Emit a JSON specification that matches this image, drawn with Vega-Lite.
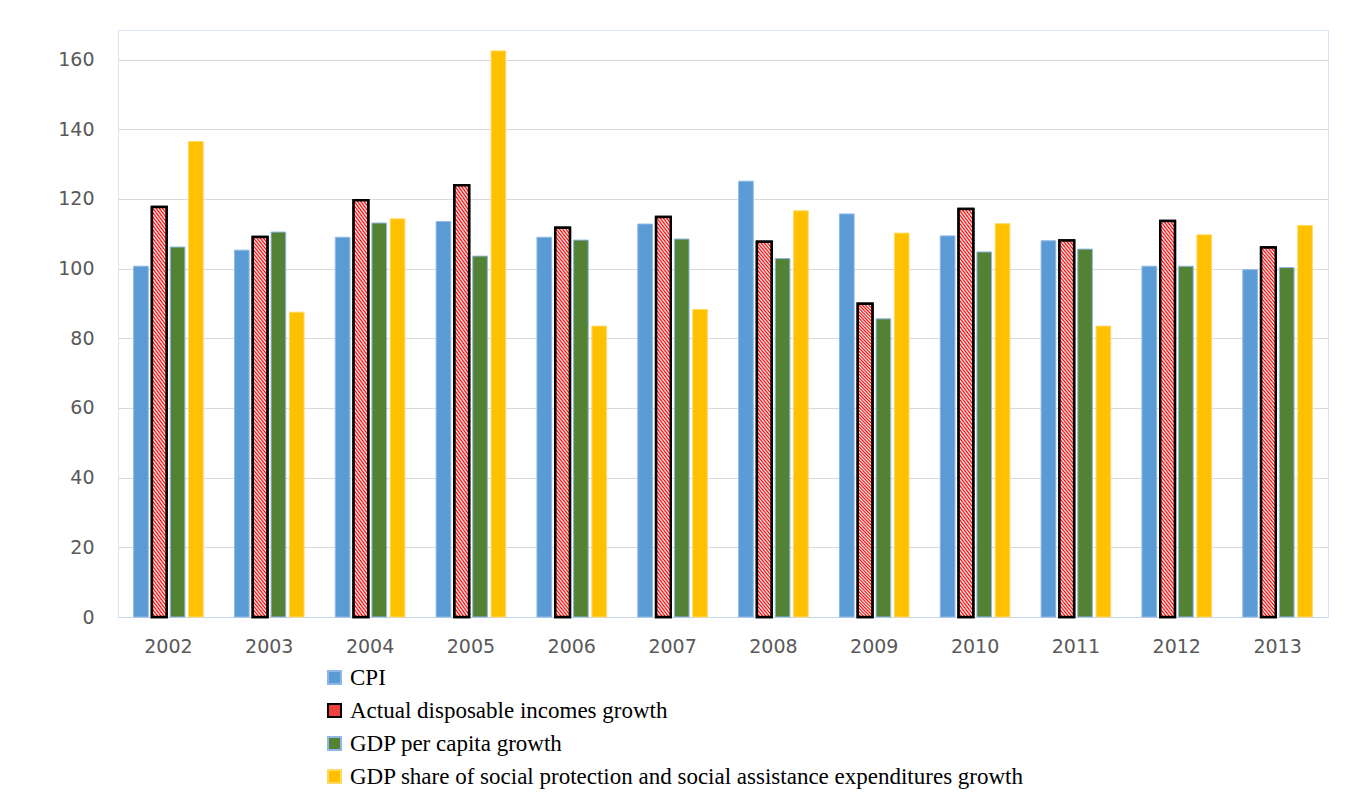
{
  "$schema": "https://vega.github.io/schema/vega-lite/v6.json",
  "width": 1210,
  "height": 587,
  "autosize": "none",
  "padding": {"left": 118, "top": 30, "right": 31, "bottom": 184},
  "background": "white",
  "config": {"view": {"stroke": "#dae3f3"}},
  "data": {"values": [
    {"year": "2002", "series": "CPI", "value": 100.7},
    {"year": "2002", "series": "Actual disposable incomes growth", "value": 117.7},
    {"year": "2002", "series": "GDP per capita growth", "value": 106.2},
    {"year": "2002", "series": "GDP share of social protection and social assistance expenditures growth", "value": 136.5},
    {"year": "2003", "series": "CPI", "value": 105.3},
    {"year": "2003", "series": "Actual disposable incomes growth", "value": 109.1},
    {"year": "2003", "series": "GDP per capita growth", "value": 110.5},
    {"year": "2003", "series": "GDP share of social protection and social assistance expenditures growth", "value": 87.5},
    {"year": "2004", "series": "CPI", "value": 109.0},
    {"year": "2004", "series": "Actual disposable incomes growth", "value": 119.6},
    {"year": "2004", "series": "GDP per capita growth", "value": 113.1},
    {"year": "2004", "series": "GDP share of social protection and social assistance expenditures growth", "value": 114.3},
    {"year": "2005", "series": "CPI", "value": 113.5},
    {"year": "2005", "series": "Actual disposable incomes growth", "value": 123.9},
    {"year": "2005", "series": "GDP per capita growth", "value": 103.6},
    {"year": "2005", "series": "GDP share of social protection and social assistance expenditures growth", "value": 162.5},
    {"year": "2006", "series": "CPI", "value": 109.0},
    {"year": "2006", "series": "Actual disposable incomes growth", "value": 111.7},
    {"year": "2006", "series": "GDP per capita growth", "value": 108.2},
    {"year": "2006", "series": "GDP share of social protection and social assistance expenditures growth", "value": 83.5},
    {"year": "2007", "series": "CPI", "value": 112.8},
    {"year": "2007", "series": "Actual disposable incomes growth", "value": 114.8},
    {"year": "2007", "series": "GDP per capita growth", "value": 108.5},
    {"year": "2007", "series": "GDP share of social protection and social assistance expenditures growth", "value": 88.3},
    {"year": "2008", "series": "CPI", "value": 125.1},
    {"year": "2008", "series": "Actual disposable incomes growth", "value": 107.7},
    {"year": "2008", "series": "GDP per capita growth", "value": 102.9},
    {"year": "2008", "series": "GDP share of social protection and social assistance expenditures growth", "value": 116.6},
    {"year": "2009", "series": "CPI", "value": 115.7},
    {"year": "2009", "series": "Actual disposable incomes growth", "value": 89.9},
    {"year": "2009", "series": "GDP per capita growth", "value": 85.6},
    {"year": "2009", "series": "GDP share of social protection and social assistance expenditures growth", "value": 110.2},
    {"year": "2010", "series": "CPI", "value": 109.4},
    {"year": "2010", "series": "Actual disposable incomes growth", "value": 117.1},
    {"year": "2010", "series": "GDP per capita growth", "value": 104.8},
    {"year": "2010", "series": "GDP share of social protection and social assistance expenditures growth", "value": 112.9},
    {"year": "2011", "series": "CPI", "value": 108.0},
    {"year": "2011", "series": "Actual disposable incomes growth", "value": 108.1},
    {"year": "2011", "series": "GDP per capita growth", "value": 105.6},
    {"year": "2011", "series": "GDP share of social protection and social assistance expenditures growth", "value": 83.5},
    {"year": "2012", "series": "CPI", "value": 100.7},
    {"year": "2012", "series": "Actual disposable incomes growth", "value": 113.7},
    {"year": "2012", "series": "GDP per capita growth", "value": 100.7},
    {"year": "2012", "series": "GDP share of social protection and social assistance expenditures growth", "value": 109.7},
    {"year": "2013", "series": "CPI", "value": 99.7},
    {"year": "2013", "series": "Actual disposable incomes growth", "value": 106.1},
    {"year": "2013", "series": "GDP per capita growth", "value": 100.3},
    {"year": "2013", "series": "GDP share of social protection and social assistance expenditures growth", "value": 112.4}
  ]},
  "encoding": {
    "x": {
      "field": "year", "type": "nominal",
      "scale": {"paddingInner": 0.31, "paddingOuter": 0.155},
      "axis": {"title": null, "labelAngle": 0, "domain": true, "domainColor": "#c5d5ea", "ticks": false, "labelFont": "DejaVu Sans", "labelFontSize": 19, "labelColor": "#595959", "labelPadding": 20}
    },
    "xOffset": {
      "field": "series", "type": "nominal",
      "scale": {"domain": ["CPI", "Actual disposable incomes growth", "GDP per capita growth", "GDP share of social protection and social assistance expenditures growth"], "paddingInner": 0.2}
    },
    "y": {
      "field": "value", "type": "quantitative",
      "scale": {"domain": [0, 168.5], "nice": false},
      "axis": {"title": null, "values": [0, 20, 40, 60, 80, 100, 120, 140, 160], "grid": true, "gridColor": "#d9d9d9", "domain": false, "ticks": false, "labelFont": "DejaVu Sans", "labelFontSize": 19, "labelColor": "#595959", "labelPadding": 24}
    }
  },
  "layer": [
    {
      "mark": {"type": "bar"},
      "encoding": {
        "color": {
          "field": "series", "type": "nominal",
          "scale": {
            "domain": ["CPI", "Actual disposable incomes growth", "GDP per capita growth", "GDP share of social protection and social assistance expenditures growth"],
            "range": ["#5b9bd5", "#f04040", "#548235", "#ffc000"]
          },
          "legend": {
            "orient": "none", "legendX": 205, "legendY": 636, "direction": "vertical", "title": null,
            "labelFont": "Liberation Serif", "labelFontSize": 23, "labelColor": "#000000", "labelLimit": 1000,
            "symbolType": "square", "symbolSize": 170, "symbolStrokeWidth": 2, "rowPadding": 9, "labelOffset": 4
          }
        },
        "stroke": {
          "field": "series", "type": "nominal",
          "scale": {
            "domain": ["CPI", "Actual disposable incomes growth", "GDP per capita growth", "GDP share of social protection and social assistance expenditures growth"],
            "range": ["#8fb8e6", "#000000", "#8fb8e6", "#ffd966"]
          }
        },
        "strokeWidth": {
          "condition": {"test": "datum.series === 'Actual disposable incomes growth'", "value": 2.5},
          "value": 1
        }
      }
    },
    {
      "transform": [{"filter": "datum.series === 'Actual disposable incomes growth'"}],
      "mark": {
        "type": "bar", "stroke": "#000000", "strokeWidth": 2.5,
        "fill": {"gradient": "linear", "x1": 0.05, "y1": -0.05, "x2": 0, "y2": 1, "stops": [
            {"offset": 0, "color": "#ff0000"}, {"offset": 0.005, "color": "#ffffff"}, {"offset": 0.01, "color": "#ff0000"}, {"offset": 0.015, "color": "#ffffff"}, {"offset": 0.02, "color": "#ff0000"}, {"offset": 0.025, "color": "#ffffff"}, {"offset": 0.03, "color": "#ff0000"}, {"offset": 0.035, "color": "#ffffff"}, {"offset": 0.04, "color": "#ff0000"}, {"offset": 0.045, "color": "#ffffff"},
            {"offset": 0.05, "color": "#ff0000"}, {"offset": 0.055, "color": "#ffffff"}, {"offset": 0.06, "color": "#ff0000"}, {"offset": 0.065, "color": "#ffffff"}, {"offset": 0.07, "color": "#ff0000"}, {"offset": 0.075, "color": "#ffffff"}, {"offset": 0.08, "color": "#ff0000"}, {"offset": 0.085, "color": "#ffffff"}, {"offset": 0.09, "color": "#ff0000"}, {"offset": 0.095, "color": "#ffffff"},
            {"offset": 0.1, "color": "#ff0000"}, {"offset": 0.105, "color": "#ffffff"}, {"offset": 0.11, "color": "#ff0000"}, {"offset": 0.115, "color": "#ffffff"}, {"offset": 0.12, "color": "#ff0000"}, {"offset": 0.125, "color": "#ffffff"}, {"offset": 0.13, "color": "#ff0000"}, {"offset": 0.135, "color": "#ffffff"}, {"offset": 0.14, "color": "#ff0000"}, {"offset": 0.145, "color": "#ffffff"},
            {"offset": 0.15, "color": "#ff0000"}, {"offset": 0.155, "color": "#ffffff"}, {"offset": 0.16, "color": "#ff0000"}, {"offset": 0.165, "color": "#ffffff"}, {"offset": 0.17, "color": "#ff0000"}, {"offset": 0.175, "color": "#ffffff"}, {"offset": 0.18, "color": "#ff0000"}, {"offset": 0.185, "color": "#ffffff"}, {"offset": 0.19, "color": "#ff0000"}, {"offset": 0.195, "color": "#ffffff"},
            {"offset": 0.2, "color": "#ff0000"}, {"offset": 0.205, "color": "#ffffff"}, {"offset": 0.21, "color": "#ff0000"}, {"offset": 0.215, "color": "#ffffff"}, {"offset": 0.22, "color": "#ff0000"}, {"offset": 0.225, "color": "#ffffff"}, {"offset": 0.23, "color": "#ff0000"}, {"offset": 0.235, "color": "#ffffff"}, {"offset": 0.24, "color": "#ff0000"}, {"offset": 0.245, "color": "#ffffff"},
            {"offset": 0.25, "color": "#ff0000"}, {"offset": 0.255, "color": "#ffffff"}, {"offset": 0.26, "color": "#ff0000"}, {"offset": 0.265, "color": "#ffffff"}, {"offset": 0.27, "color": "#ff0000"}, {"offset": 0.275, "color": "#ffffff"}, {"offset": 0.28, "color": "#ff0000"}, {"offset": 0.285, "color": "#ffffff"}, {"offset": 0.29, "color": "#ff0000"}, {"offset": 0.295, "color": "#ffffff"},
            {"offset": 0.3, "color": "#ff0000"}, {"offset": 0.305, "color": "#ffffff"}, {"offset": 0.31, "color": "#ff0000"}, {"offset": 0.315, "color": "#ffffff"}, {"offset": 0.32, "color": "#ff0000"}, {"offset": 0.325, "color": "#ffffff"}, {"offset": 0.33, "color": "#ff0000"}, {"offset": 0.335, "color": "#ffffff"}, {"offset": 0.34, "color": "#ff0000"}, {"offset": 0.345, "color": "#ffffff"},
            {"offset": 0.35, "color": "#ff0000"}, {"offset": 0.355, "color": "#ffffff"}, {"offset": 0.36, "color": "#ff0000"}, {"offset": 0.365, "color": "#ffffff"}, {"offset": 0.37, "color": "#ff0000"}, {"offset": 0.375, "color": "#ffffff"}, {"offset": 0.38, "color": "#ff0000"}, {"offset": 0.385, "color": "#ffffff"}, {"offset": 0.39, "color": "#ff0000"}, {"offset": 0.395, "color": "#ffffff"},
            {"offset": 0.4, "color": "#ff0000"}, {"offset": 0.405, "color": "#ffffff"}, {"offset": 0.41, "color": "#ff0000"}, {"offset": 0.415, "color": "#ffffff"}, {"offset": 0.42, "color": "#ff0000"}, {"offset": 0.425, "color": "#ffffff"}, {"offset": 0.43, "color": "#ff0000"}, {"offset": 0.435, "color": "#ffffff"}, {"offset": 0.44, "color": "#ff0000"}, {"offset": 0.445, "color": "#ffffff"},
            {"offset": 0.45, "color": "#ff0000"}, {"offset": 0.455, "color": "#ffffff"}, {"offset": 0.46, "color": "#ff0000"}, {"offset": 0.465, "color": "#ffffff"}, {"offset": 0.47, "color": "#ff0000"}, {"offset": 0.475, "color": "#ffffff"}, {"offset": 0.48, "color": "#ff0000"}, {"offset": 0.485, "color": "#ffffff"}, {"offset": 0.49, "color": "#ff0000"}, {"offset": 0.495, "color": "#ffffff"},
            {"offset": 0.5, "color": "#ff0000"}, {"offset": 0.505, "color": "#ffffff"}, {"offset": 0.51, "color": "#ff0000"}, {"offset": 0.515, "color": "#ffffff"}, {"offset": 0.52, "color": "#ff0000"}, {"offset": 0.525, "color": "#ffffff"}, {"offset": 0.53, "color": "#ff0000"}, {"offset": 0.535, "color": "#ffffff"}, {"offset": 0.54, "color": "#ff0000"}, {"offset": 0.545, "color": "#ffffff"},
            {"offset": 0.55, "color": "#ff0000"}, {"offset": 0.555, "color": "#ffffff"}, {"offset": 0.56, "color": "#ff0000"}, {"offset": 0.565, "color": "#ffffff"}, {"offset": 0.57, "color": "#ff0000"}, {"offset": 0.575, "color": "#ffffff"}, {"offset": 0.58, "color": "#ff0000"}, {"offset": 0.585, "color": "#ffffff"}, {"offset": 0.59, "color": "#ff0000"}, {"offset": 0.595, "color": "#ffffff"},
            {"offset": 0.6, "color": "#ff0000"}, {"offset": 0.605, "color": "#ffffff"}, {"offset": 0.61, "color": "#ff0000"}, {"offset": 0.615, "color": "#ffffff"}, {"offset": 0.62, "color": "#ff0000"}, {"offset": 0.625, "color": "#ffffff"}, {"offset": 0.63, "color": "#ff0000"}, {"offset": 0.635, "color": "#ffffff"}, {"offset": 0.64, "color": "#ff0000"}, {"offset": 0.645, "color": "#ffffff"},
            {"offset": 0.65, "color": "#ff0000"}, {"offset": 0.655, "color": "#ffffff"}, {"offset": 0.66, "color": "#ff0000"}, {"offset": 0.665, "color": "#ffffff"}, {"offset": 0.67, "color": "#ff0000"}, {"offset": 0.675, "color": "#ffffff"}, {"offset": 0.68, "color": "#ff0000"}, {"offset": 0.685, "color": "#ffffff"}, {"offset": 0.69, "color": "#ff0000"}, {"offset": 0.695, "color": "#ffffff"},
            {"offset": 0.7, "color": "#ff0000"}, {"offset": 0.705, "color": "#ffffff"}, {"offset": 0.71, "color": "#ff0000"}, {"offset": 0.715, "color": "#ffffff"}, {"offset": 0.72, "color": "#ff0000"}, {"offset": 0.725, "color": "#ffffff"}, {"offset": 0.73, "color": "#ff0000"}, {"offset": 0.735, "color": "#ffffff"}, {"offset": 0.74, "color": "#ff0000"}, {"offset": 0.745, "color": "#ffffff"},
            {"offset": 0.75, "color": "#ff0000"}, {"offset": 0.755, "color": "#ffffff"}, {"offset": 0.76, "color": "#ff0000"}, {"offset": 0.765, "color": "#ffffff"}, {"offset": 0.77, "color": "#ff0000"}, {"offset": 0.775, "color": "#ffffff"}, {"offset": 0.78, "color": "#ff0000"}, {"offset": 0.785, "color": "#ffffff"}, {"offset": 0.79, "color": "#ff0000"}, {"offset": 0.795, "color": "#ffffff"},
            {"offset": 0.8, "color": "#ff0000"}, {"offset": 0.805, "color": "#ffffff"}, {"offset": 0.81, "color": "#ff0000"}, {"offset": 0.815, "color": "#ffffff"}, {"offset": 0.82, "color": "#ff0000"}, {"offset": 0.825, "color": "#ffffff"}, {"offset": 0.83, "color": "#ff0000"}, {"offset": 0.835, "color": "#ffffff"}, {"offset": 0.84, "color": "#ff0000"}, {"offset": 0.845, "color": "#ffffff"},
            {"offset": 0.85, "color": "#ff0000"}, {"offset": 0.855, "color": "#ffffff"}, {"offset": 0.86, "color": "#ff0000"}, {"offset": 0.865, "color": "#ffffff"}, {"offset": 0.87, "color": "#ff0000"}, {"offset": 0.875, "color": "#ffffff"}, {"offset": 0.88, "color": "#ff0000"}, {"offset": 0.885, "color": "#ffffff"}, {"offset": 0.89, "color": "#ff0000"}, {"offset": 0.895, "color": "#ffffff"},
            {"offset": 0.9, "color": "#ff0000"}, {"offset": 0.905, "color": "#ffffff"}, {"offset": 0.91, "color": "#ff0000"}, {"offset": 0.915, "color": "#ffffff"}, {"offset": 0.92, "color": "#ff0000"}, {"offset": 0.925, "color": "#ffffff"}, {"offset": 0.93, "color": "#ff0000"}, {"offset": 0.935, "color": "#ffffff"}, {"offset": 0.94, "color": "#ff0000"}, {"offset": 0.945, "color": "#ffffff"},
            {"offset": 0.95, "color": "#ff0000"}, {"offset": 0.955, "color": "#ffffff"}, {"offset": 0.96, "color": "#ff0000"}, {"offset": 0.965, "color": "#ffffff"}, {"offset": 0.97, "color": "#ff0000"}, {"offset": 0.975, "color": "#ffffff"}, {"offset": 0.98, "color": "#ff0000"}, {"offset": 0.985, "color": "#ffffff"}, {"offset": 0.99, "color": "#ff0000"}, {"offset": 0.995, "color": "#ffffff"},
            {"offset": 1, "color": "#ff0000"}
          ]}
      },
      "encoding": {}
    }
  ]
}
